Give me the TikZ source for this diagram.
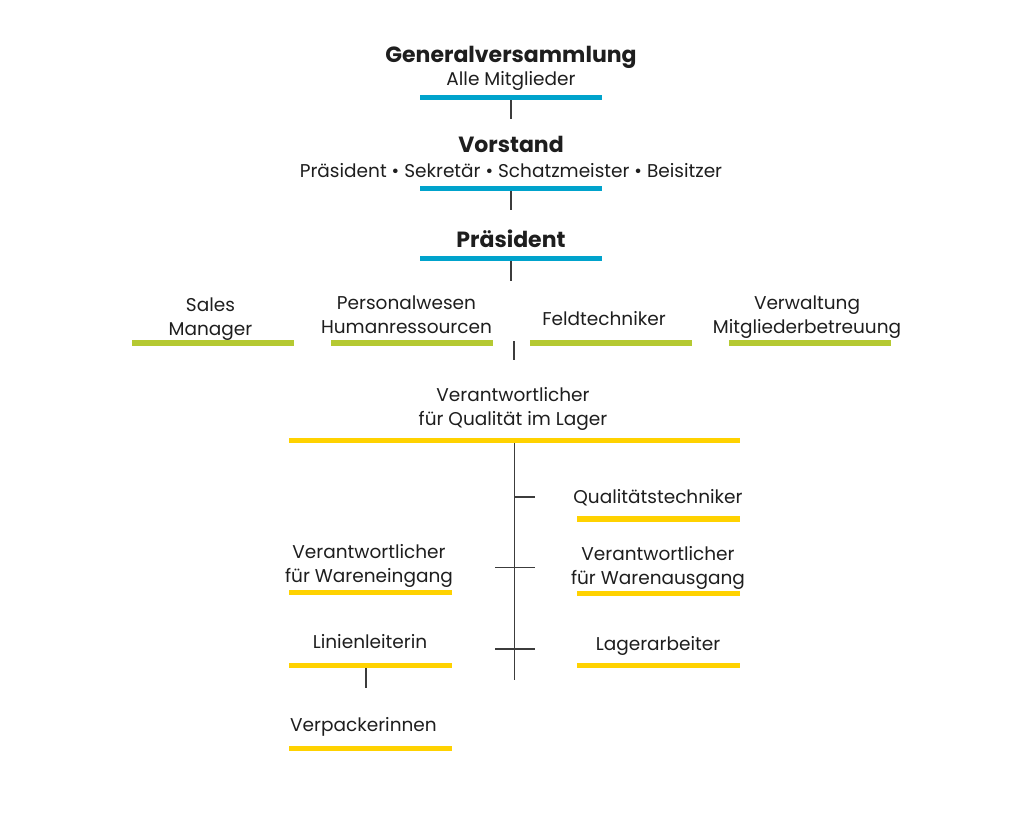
\documentclass[tikz,border=0pt]{standalone}
\usepackage{fontspec}
\setmainfont{Poppins}
\definecolor{barblue}{RGB}{0,163,204}
\definecolor{bargreen}{RGB}{181,201,50}
\definecolor{baryellow}{RGB}{255,210,0}
\definecolor{txt}{RGB}{30,30,30}
\definecolor{linec}{RGB}{60,60,60}
\begin{document}
\begin{tikzpicture}[x=1pt,y=-1pt,
  lbl/.style={align=center,anchor=base,inner sep=0pt,font=\fontsize{18.5}{24}\selectfont,text=txt},
  head/.style={align=center,anchor=base,inner sep=0pt,font=\fontsize{22}{26}\selectfont\bfseries,text=txt},
  bar/.style={fill=#1,inner sep=0pt,minimum height=5.5pt,draw=none,anchor=center},
  conn/.style={draw=linec,line width=1.2pt}]
\useasboundingbox[fill=white] (0,0) rectangle (1024,812);

% top level
\node[head] (gv) at (511,62) {Generalversammlung};
\node[lbl] (gvs) at (511,85) {Alle Mitglieder};
\node[bar=barblue,minimum width=182pt] (b1) at (511,97.5) {};
\node[head] (vs) at (511,152) {Vorstand};
\node[lbl] (vss) at (511,177) {Präsident • Sekretär • Schatzmeister • Beisitzer};
\node[bar=barblue,minimum width=182pt] (b2) at (511,188.5) {};
\node[head] (pr) at (511,247) {Präsident};
\node[bar=barblue,minimum width=182pt] (b3) at (511,258.5) {};
\draw[conn] (b1.south) -- ++(0,19);
\draw[conn] (b2.south) -- ++(0,19);
\draw[conn] (b3.south) -- ++(0,20);

% green level (base = last line's baseline)
\node[lbl] (sm) at (210.5,335) {Sales\\Manager};
\node[bar=bargreen,minimum width=162pt] (g1) at (213,343) {};
\node[lbl] (pw) at (406.5,333) {Personalwesen\\Humanressourcen};
\node[bar=bargreen,minimum width=162pt] (g2) at (411.5,343) {};
\node[lbl] (ft) at (604,325) {Feldtechniker};
\node[bar=bargreen,minimum width=162pt] (g3) at (610.5,343) {};
\node[lbl] (vw) at (807,333) {Verwaltung\\Mitgliederbetreuung};
\node[bar=bargreen,minimum width=162pt] (g4) at (809.5,343) {};
\coordinate (gs) at (514,341);
\draw[conn] (gs) -- ++(0,19);

% yellow level
\node[lbl] (ql) at (513,425) {Verantwortlicher\\für Qualität im Lager};
\node[bar=baryellow,minimum width=451pt] (y0) at (514.5,440.5) {};
\draw[conn] (y0.south) -- ++(0,237) coordinate (yend);
\coordinate (t1) at (515,497);
\coordinate (t2) at (515,567.3);
\coordinate (t3) at (515,649);
\draw[conn] (t1) -- ++(20,0);
\draw[conn] ([xshift=-20pt]t2) -- ([xshift=20pt]t2);
\draw[conn] ([xshift=-20pt]t3) -- ([xshift=20pt]t3);

\node[lbl] (qt) at (658,503) {Qualitätstechniker};
\node[bar=baryellow,minimum width=163pt] (y1) at (658.5,519) {};
\node[lbl] (we) at (369,582) {Verantwortlicher\\für Wareneingang};
\node[bar=baryellow,minimum width=163pt] (y2) at (370.5,592.5) {};
\node[lbl] (wa) at (658,584) {Verantwortlicher\\für Warenausgang};
\node[bar=baryellow,minimum width=163pt] (y3) at (658.5,593.5) {};
\node[lbl] (ll) at (370,648) {Linienleiterin};
\node[bar=baryellow,minimum width=163pt] (y4) at (370.5,665.5) {};
\node[lbl] (la) at (658,650) {Lagerarbeiter};
\node[bar=baryellow,minimum width=163pt] (y5) at (658.5,665.5) {};
\node[lbl] (vp) at (363.5,731) {Verpackerinnen};
\node[bar=baryellow,minimum width=163pt] (y6) at (370.5,748.5) {};
\coordinate (ls) at (366,668);
\draw[conn] (ls) -- ++(0,20);
\end{tikzpicture}
\end{document}
